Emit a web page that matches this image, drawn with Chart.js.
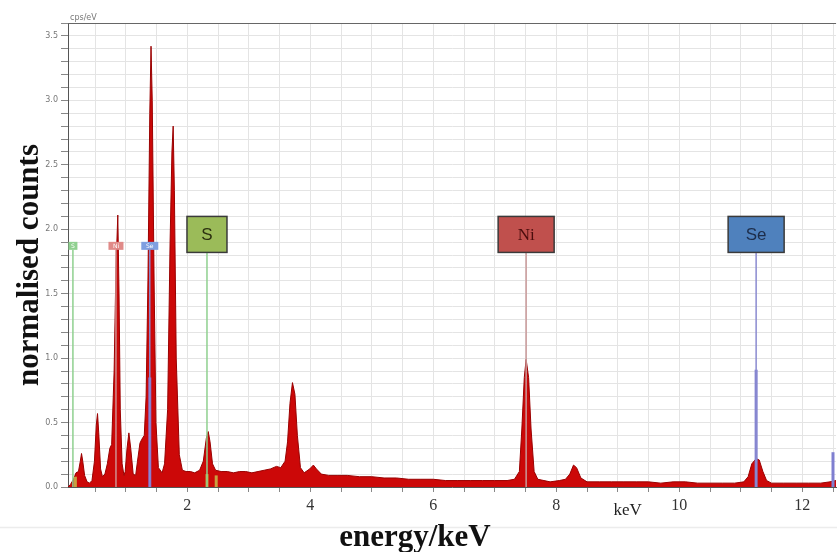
<!DOCTYPE html>
<html>
<head>
<meta charset="utf-8">
<script src="https://cdn.jsdelivr.net/npm/chart.js@4.4.1/dist/chart.umd.min.js"></script>
<style>
  html, body { margin: 0; padding: 0; background: #fff; }
  #wrap { width: 837px; height: 552px; }
</style>
</head>
<body>
<div id="wrap"><canvas id="cv" width="837" height="552"></canvas></div>
<script>
// spectrum (keV / cps per eV)
const energy = [
  0.06, 0.10, 0.15, 0.19, 0.23, 0.26, 0.28, 0.30, 0.33, 0.37, 0.41, 0.45, 0.49, 0.52, 0.54, 0.56, 0.59, 0.62,
  0.66, 0.70, 0.74, 0.77, 0.81, 0.84, 0.87, 0.89, 0.91, 0.94, 0.97, 0.99, 1.02, 1.05, 1.08, 1.12, 1.16, 1.19,
  1.23, 1.26, 1.30, 1.33, 1.36, 1.39, 1.41, 1.43, 1.46, 1.49, 1.53, 1.59, 1.63, 1.68, 1.72, 1.75, 1.77, 1.79,
  1.82, 1.87, 1.92, 1.98, 2.05, 2.12, 2.20, 2.26, 2.31, 2.34, 2.37, 2.41, 2.46, 2.55, 2.65, 2.75, 2.85, 2.95,
  3.05, 3.15, 3.25, 3.35, 3.45, 3.52, 3.59, 3.63, 3.67, 3.71, 3.75, 3.79, 3.84, 3.90, 3.99, 4.05, 4.10, 4.18,
  4.30, 4.45, 4.60, 4.80, 5.00, 5.20, 5.40, 5.60, 5.80, 6.00, 6.20, 6.40, 6.60, 6.80, 7.00, 7.20, 7.32, 7.40,
  7.44, 7.48, 7.51, 7.55, 7.59, 7.64, 7.70, 7.80, 7.90, 8.05, 8.15, 8.22, 8.28, 8.33, 8.40, 8.50, 8.70, 8.90,
  9.10, 9.30, 9.50, 9.70, 9.90, 10.10, 10.30, 10.50, 10.70, 10.90, 11.05, 11.12, 11.18, 11.25, 11.30, 11.36,
  11.42, 11.50, 11.70, 11.90, 12.10, 12.30, 12.45, 12.55
];
const counts = [
  0.00, 0.02, 0.06, 0.11, 0.12, 0.20, 0.26, 0.20, 0.09, 0.04, 0.03, 0.05, 0.20, 0.48, 0.57, 0.42, 0.14, 0.08,
  0.10, 0.18, 0.30, 0.33, 0.90, 1.70, 2.11, 1.50, 0.60, 0.18, 0.09, 0.12, 0.30, 0.42, 0.30, 0.10, 0.09, 0.20,
  0.34, 0.37, 0.40, 0.70, 1.60, 2.90, 3.42, 3.00, 1.60, 0.50, 0.15, 0.11, 0.18, 0.60, 1.90, 2.60, 2.80, 2.30,
  1.00, 0.25, 0.13, 0.12, 0.12, 0.11, 0.13, 0.20, 0.38, 0.43, 0.35, 0.18, 0.13, 0.12, 0.12, 0.11, 0.12, 0.12,
  0.11, 0.12, 0.13, 0.14, 0.16, 0.15, 0.20, 0.35, 0.65, 0.81, 0.72, 0.40, 0.15, 0.11, 0.14, 0.17, 0.14, 0.10,
  0.09, 0.09, 0.09, 0.08, 0.08, 0.07, 0.07, 0.06, 0.06, 0.06, 0.05, 0.05, 0.05, 0.05, 0.05, 0.05, 0.06, 0.12,
  0.45, 0.85, 0.99, 0.85, 0.45, 0.12, 0.06, 0.05, 0.04, 0.05, 0.06, 0.10, 0.17, 0.15, 0.07, 0.04, 0.04, 0.04,
  0.04, 0.04, 0.04, 0.03, 0.04, 0.04, 0.03, 0.03, 0.03, 0.03, 0.04, 0.08, 0.18, 0.22, 0.21, 0.12,
  0.05, 0.03, 0.03, 0.03, 0.03, 0.03, 0.04, 0.05
];

// element markers (label boxes + lines)
const markerNames  = ['S', 'Ni', 'Se', 'S', 'Ni', 'Se'];
const markerEnergy = [2.32, 7.51, 11.25, 0.14, 0.84, 1.39];
const markerTop    = [1.82, 1.82, 1.82, 1.84, 1.84, 1.84];
const markerBig    = [true, true, true, false, false, false];
const markerFill   = ['#9bbb59', '#c0504d', '#4f81bd', '#8fd08f', '#e08a88', '#7f9fe0'];
const markerLine   = ['#8fd08f', '#c99a9a', '#8a8ad0', '#8fd08f', '#d09090', '#8a8ad0'];

// intensity bars under the markers
const barEnergy = [1.39, 11.25, 12.50, 0.18, 2.32, 2.47];
const barHeight = [0.85, 0.91, 0.27, 0.08, 0.10, 0.09];
const barColor  = ['#8a6fd0', '#7f7fd0', '#7f7fd0', '#c8a040', '#c8a040', '#c8a040'];

// axes
const xTickValues = [0.5, 1, 1.5, 2, 2.5, 3, 3.5, 4, 4.5, 5, 5.5, 6, 6.5, 7, 7.5, 8, 8.5, 9, 9.5, 10, 10.5, 11, 11.5, 12, 12.5];
const xLabelValues = [2, 4, 6, 8, 10, 12];
const yLabels = ['0.0', '0.5', '1.0', '1.5', '2.0', '2.5', '3.0', '3.5'];

const spectrum = energy.map((e, i) => ({ x: e, y: counts[i] }));

const markerSets = markerNames.map((n, i) => ({
  label: 'm' + i,
  data: [{ x: markerEnergy[i], y: 0 }, { x: markerEnergy[i], y: markerTop[i] }],
  borderColor: markerLine[i],
  borderWidth: 1.5,
  pointRadius: 0,
  fill: false,
  order: 1
}));
const barSets = barEnergy.map((e, i) => ({
  label: 'b' + i,
  data: [{ x: e, y: 0 }, { x: e, y: barHeight[i] }],
  borderColor: barColor[i],
  borderWidth: 3,
  pointRadius: 0,
  fill: false,
  order: 1
}));

const decor = {
  id: 'decor',
  afterDatasetsDraw(chart) {
    const { ctx, chartArea: a, scales: { x, y } } = chart;
    ctx.save();
    // top border
    ctx.strokeStyle = '#666';
    ctx.lineWidth = 1;
    ctx.beginPath();
    ctx.moveTo(a.left, a.top + 0.5);
    ctx.lineTo(a.right, a.top + 0.5);
    ctx.stroke();

    markerNames.forEach((n, i) => {
      const cx = x.getPixelForValue(markerEnergy[i]);
      const by = y.getPixelForValue(markerTop[i]);
      let w, h, font, col;
      if (markerBig[i]) {
        w = n === 'S' ? 40 : 56; h = 36;
        font = n === 'Ni' ? '17px "Liberation Serif"' : '17px "Liberation Sans"';
        col = n === 'S' ? '#2b3010' : (n === 'Ni' ? '#4a0c0c' : '#1d2d4a');
      } else {
        w = n === 'S' ? 9 : (n === 'Ni' ? 15 : 17); h = 8;
        font = '6px "DejaVu Sans"';
        col = '#ffffff';
      }
      ctx.fillStyle = markerFill[i];
      ctx.fillRect(cx - w / 2, by - h, w, h);
      if (markerBig[i]) {
        ctx.strokeStyle = '#3a3a3a';
        ctx.lineWidth = 1.5;
        ctx.strokeRect(cx - w / 2, by - h, w, h);
      }
      ctx.fillStyle = col;
      ctx.font = font;
      ctx.textAlign = 'center';
      ctx.textBaseline = 'middle';
      ctx.fillText(n, cx, by - h / 2 + 1);
    });

    // small unit text
    ctx.fillStyle = '#777';
    ctx.font = '8px "DejaVu Sans"';
    ctx.textAlign = 'left';
    ctx.textBaseline = 'alphabetic';
    ctx.fillText('cps/eV', a.left + 2, a.top - 3);

    // keV next to the tick labels
    ctx.fillStyle = '#222';
    ctx.font = '17px "Liberation Serif"';
    ctx.textAlign = 'center';
    ctx.textBaseline = 'middle';
    ctx.fillText('keV', x.getPixelForValue(9.16), a.bottom + 24);

    // faint separator
    ctx.strokeStyle = '#ececec';
    ctx.beginPath();
    ctx.moveTo(0, 527.5);
    ctx.lineTo(chart.width, 527.5);
    ctx.stroke();

    // axis titles
    ctx.fillStyle = '#111';
    ctx.font = 'bold 31px "Liberation Serif"';
    ctx.textAlign = 'center';
    ctx.textBaseline = 'middle';
    ctx.fillText('energy/keV', 415, 538);
    ctx.translate(30, 265);
    ctx.rotate(-Math.PI / 2);
    ctx.fillText('normalised counts', 0, 0);
    ctx.restore();
  }
};

new Chart(document.getElementById('cv').getContext('2d'), {
  type: 'line',
  data: {
    datasets: [
      ...markerSets,
      ...barSets,
      {
        label: 'spectrum',
        data: spectrum,
        borderColor: '#9a0000',
        backgroundColor: '#cc0808',
        borderWidth: 1,
        pointRadius: 0,
        tension: 0,
        fill: 'origin',
        order: 2
      }
    ]
  },
  options: {
    responsive: false,
    animation: false,
    layout: { padding: { top: 23, right: 0, left: 0, bottom: 0 } },
    plugins: { legend: { display: false }, tooltip: { enabled: false } },
    scales: {
      x: {
        type: 'linear',
        min: 0.06,
        max: 12.55,
        afterBuildTicks: s => { s.ticks = xTickValues.map(v => ({ value: v })); },
        afterFit: s => { s.height = 65; },
        grid: { color: '#e4e4e4', tickColor: '#888', tickLength: 5 },
        border: { color: '#555' },
        ticks: {
          autoSkip: false,
          maxRotation: 0,
          padding: 4,
          color: '#333',
          font: { family: '"Liberation Serif"', size: 16 },
          callback: v => xLabelValues.includes(v) ? String(v) : ''
        }
      },
      y: {
        min: 0,
        max: 3.6,
        afterBuildTicks: s => {
          const t = [];
          for (let i = 0; i <= 36; i++) t.push({ value: i / 10 });
          s.ticks = t;
        },
        afterFit: s => { s.width = 68; },
        grid: { color: '#e4e4e4', tickColor: '#888', tickLength: 7 },
        border: { color: '#555' },
        ticks: {
          autoSkip: false,
          padding: 3,
          color: '#777',
          font: { family: '"DejaVu Sans"', size: 8 },
          callback: v => {
            const k = Math.round(v * 10);
            return k % 5 === 0 ? yLabels[k / 5] : '';
          }
        }
      }
    }
  },
  plugins: [decor]
});
</script>
</body>
</html>
